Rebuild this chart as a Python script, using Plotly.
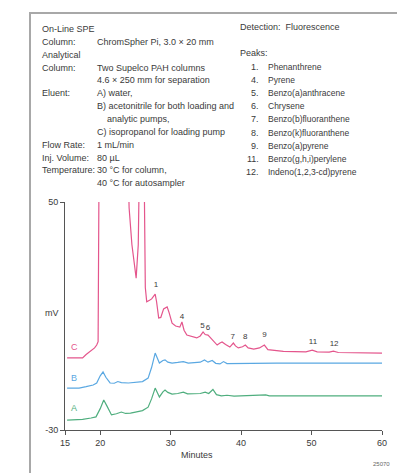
import plotly.graph_objects as go

# ---------------- data ----------------
time_C = [15.3, 17.5, 18.0, 18.7, 19.2, 19.5, 19.7, 19.85, 20.1, 23.9, 24.1, 24.5, 25.1, 25.4, 25.6,
          26.2, 26.4, 26.6, 27.0, 27.3, 27.8, 28.0, 28.3, 28.6, 29.0, 29.5, 29.8, 30.2, 30.7, 31.3,
          31.6, 31.9, 32.3, 33.0, 33.7, 34.2, 34.6, 34.9, 35.3, 35.8, 36.6, 37.0, 37.3, 37.8, 38.4,
          38.9, 39.2, 39.6, 40.2, 40.6, 41.0, 41.8, 42.6, 43.3, 43.8, 46.0, 49.2, 50.1, 50.8, 52.5,
          53.1, 53.8, 57.0, 60.0]
mv_C = [-4.7, -4.7, -3.5, -2.0, -1.2, -0.2, 1.0, 70, 70, 70, 48, 35, 23.3, 35, 70,
        70, 20, 15, 15.5, 16, 17.7, 15, 9.3, 9.5, 12.5, 13.2, 11, 7.5, 6.5, 6.1,
        7.9, 5.0, 3.3, 2.8, 2.3, 3.0, 4.4, 3.5, 3.3, 2.0, -0.2, 0.5, 0.9, 0.0, -0.9,
        0.5, -0.5, -1.2, -0.8, -0.2, -1.2, -1.6, -1.2, -0.2, -1.8, -2.4, -2.6, -2.0, -2.6, -2.7,
        -2.3, -2.8, -3.0, -3.0]

time_B = [15.3, 17.0, 18.0, 19.0, 19.5, 20.0, 20.4, 20.8, 21.4, 22.0, 22.5, 23.0, 24.0, 25.0,
          26.0, 26.8, 27.3, 27.8, 28.1, 28.4, 28.9, 29.2, 29.6, 30.2, 31.0, 31.8, 32.5, 33.5,
          34.2, 34.8, 35.3, 35.9, 36.4, 37.0, 37.5, 38.0, 40.0, 45.0, 60.0]
mv_B = [-15.3, -15.3, -14.8, -14.2, -13.5, -11.0, -9.6, -11.5, -13.5, -13.6, -13.0, -13.4, -13.5, -13.2,
        -13.0, -11.8, -8.0, -3.0, -5.0, -6.5, -5.6, -5.4, -6.2, -6.5, -6.3, -6.0, -6.5, -6.4,
        -6.2, -5.4, -6.2, -5.6, -6.6, -6.8, -6.0, -6.7, -6.6, -6.5, -6.5]

time_A = [15.3, 17.5, 18.7, 19.4, 20.0, 20.5, 21.0, 21.6, 22.3, 23.0, 23.6, 24.3, 25.0, 26.0,
          26.8, 27.3, 27.8, 28.1, 28.4, 28.9, 29.2, 29.6, 30.2, 31.0, 31.8, 32.4, 33.5, 34.2,
          34.9, 35.4, 36.0, 36.5, 37.2, 38.0, 39.0, 42.0, 43.5, 44.0, 60.0]
mv_A = [-26.5, -26.3, -25.8, -25.4, -22.5, -19.5, -21.8, -24.7, -24.3, -23.7, -24.2, -24.1, -23.7, -23.2,
        -22.0, -19.0, -15.3, -17.0, -18.4, -16.6, -16.0, -16.8, -17.4, -17.2, -16.7, -17.3, -17.4, -17.2,
        -16.7, -17.2, -15.8, -17.6, -18.0, -17.8, -18.1, -17.9, -17.7, -18.0, -18.0]

peak_labels = ["1", "4", "5", "6", "7", "8", "9", "11", "12"]
peak_times = [27.9, 31.6, 34.5, 35.3, 38.8, 40.6, 43.3, 50.2, 53.2]
peak_label_mv = [20.9, 9.6, 6.5, 5.8, 2.6, 2.6, 3.3, 0.9, 0.2]

x_ticks = [15, 20, 30, 40, 50, 60]
y_ticks = [50, -30]

left_labels = ["On-Line SPE", "Column:", "Analytical", "Column:", "", "Eluent:", "", "", "",
               "Flow Rate:", "Inj. Volume:", "Temperature:", ""]
left_values = ["", "ChromSpher Pi, 3.0 × 20 mm", "", "Two Supelco PAH columns",
               "4.6 × 250 mm for separation", "A) water,", "B) acetonitrile for both loading and",
               "    analytic pumps,", "C) isopropanol for loading pump", "1 mL/min", "80 µL",
               "30 °C for column,", "40 °C for autosampler"]

peak_list_nums = ["1.", "4.", "5.", "6.", "7.", "8.", "9.", "11.", "12."]
peak_list_names = ["Phenanthrene", "Pyrene", "Benzo(a)anthracene", "Chrysene",
                   "Benzo(b)fluoranthene", "Benzo(k)fluoranthene", "Benzo(a)pyrene",
                   "Benzo(g,h,i)perylene", "Indeno(1,2,3-cd)pyrene"]

# ---------------- figure ----------------
OFF = 8                      # page body margin of the written html
W, H = 405 - OFF, 473 - OFF
L, R, T, B = 65 - OFF, 405 - 382, 202 - OFF, 473 - 430
PW, PH = W - L - R, H - T - B

def px(x):
    return (x - OFF - L) / PW

def py(y):
    return (H - B - (y - OFF)) / PH

PINK = "#e4558c"
BLUE = "#5aa8e2"
GREEN = "#4fae7e"
TXT = "#3a3a3a"
FONT = "Liberation Sans Narrow, Arial Narrow, Liberation Sans, Arial, sans-serif"

fig = go.Figure()
fig.add_trace(go.Scatter(x=time_C, y=mv_C, mode="lines", line=dict(color=PINK, width=1.2), showlegend=False))
fig.add_trace(go.Scatter(x=time_B, y=mv_B, mode="lines", line=dict(color=BLUE, width=1.2), showlegend=False))
fig.add_trace(go.Scatter(x=time_A, y=mv_A, mode="lines", line=dict(color=GREEN, width=1.2), showlegend=False))

fig.add_trace(go.Scatter(x=peak_times, y=peak_label_mv, mode="text", text=peak_labels,
                         textfont=dict(family=FONT, size=8, color=TXT), showlegend=False,
                         cliponaxis=False))

ann = []
for letter, col, yy in [("C", PINK, 347), ("B", BLUE, 378), ("A", GREEN, 408)]:
    ann.append(dict(x=px(74), y=py(yy), xref="paper", yref="paper", text=letter, showarrow=False,
                    font=dict(family=FONT, size=9, color=col), xanchor="center", yanchor="middle"))

y0, dy = 29, 12.85
for i, (lab, val) in enumerate(zip(left_labels, left_values)):
    yy = y0 + i * dy
    if lab:
        ann.append(dict(x=px(40), y=py(yy), xref="paper", yref="paper", text=lab, showarrow=False,
                        font=dict(family=FONT, size=9, color=TXT), xanchor="left", yanchor="middle"))
    if val:
        ann.append(dict(x=px(95), y=py(yy), xref="paper", yref="paper",
                        text=val.replace("    ", "&nbsp;&nbsp;&nbsp;&nbsp;"),
                        showarrow=False, font=dict(family=FONT, size=9, color=TXT),
                        xanchor="left", yanchor="middle"))

ann.append(dict(x=px(238), y=py(27), xref="paper", yref="paper", text="Detection:&nbsp;&nbsp;Fluorescence",
                showarrow=False, font=dict(family=FONT, size=9, color=TXT), xanchor="left", yanchor="middle"))
ann.append(dict(x=px(238), y=py(53), xref="paper", yref="paper", text="Peaks:",
                showarrow=False, font=dict(family=FONT, size=9, color=TXT), xanchor="left", yanchor="middle"))
for i, (n, name) in enumerate(zip(peak_list_nums, peak_list_names)):
    yy = 67 + i * 13.1
    ann.append(dict(x=px(261), y=py(yy), xref="paper", yref="paper", text=n, showarrow=False,
                    font=dict(family=FONT, size=9, color=TXT), xanchor="right", yanchor="middle"))
    ann.append(dict(x=px(266), y=py(yy), xref="paper", yref="paper", text=name, showarrow=False,
                    font=dict(family=FONT, size=8.5, color=TXT), xanchor="left", yanchor="middle"))

ann.append(dict(x=px(52), y=py(313), xref="paper", yref="paper", text="mV", showarrow=False,
                font=dict(family=FONT, size=9, color=TXT), xanchor="center", yanchor="middle"))
ann.append(dict(x=px(197), y=py(455), xref="paper", yref="paper", text="Minutes", showarrow=False,
                font=dict(family=FONT, size=9, color=TXT), xanchor="center", yanchor="middle"))
ann.append(dict(x=px(381), y=py(464), xref="paper", yref="paper", text="25070", showarrow=False,
                font=dict(family=FONT, size=6, color="#666"), xanchor="center", yanchor="middle"))

fig.update_layout(
    width=W, height=H, autosize=False,
    margin=dict(l=L, r=R, t=T, b=B, pad=0),
    paper_bgcolor="white", plot_bgcolor="white",
    annotations=ann,
    shapes=[dict(type="rect", xref="paper", yref="paper", x0=px(30), x1=px(402), y0=py(490), y1=py(13),
                 line=dict(color="#a8a8a8", width=2), layer="below")],
    xaxis=dict(range=[15, 60], tickvals=x_ticks, ticktext=[str(v) for v in x_ticks],
               showgrid=False, zeroline=False, showline=True, linecolor="#555", linewidth=1,
               ticks="outside", ticklen=4, tickcolor="#555",
               tickfont=dict(family=FONT, size=9, color=TXT)),
    yaxis=dict(range=[-30, 50], tickvals=y_ticks, ticktext=[str(v) for v in y_ticks],
               showgrid=False, zeroline=False, showline=True, linecolor="#555", linewidth=1,
               ticks="outside", ticklen=4, tickcolor="#555",
               tickfont=dict(family=FONT, size=9, color=TXT)),
)

fig.write_html("out.html")
